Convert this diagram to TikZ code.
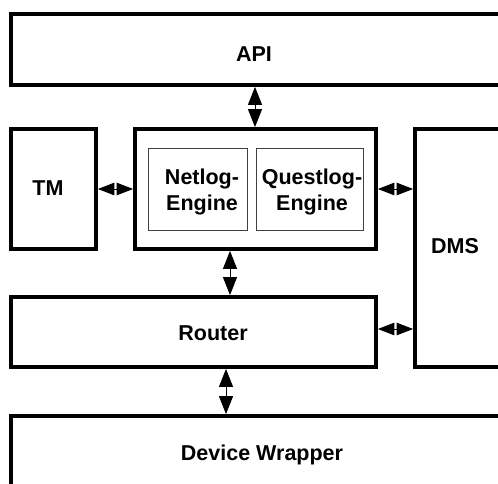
\documentclass[tikz,border=0pt]{standalone}
\usepackage{fontspec}
\setmainfont{Liberation Sans}
\usetikzlibrary{arrows.meta}
\begin{document}
\begin{tikzpicture}[x=1pt,y=-1pt,
  blk/.style={draw, line width=3.8pt, rectangle, inner sep=0pt},
  sub/.style={draw=black!75, line width=0.9pt, rectangle, inner sep=0pt},
  lbl/.style={font=\fontsize{21.5}{26}\selectfont\bfseries, inner sep=0pt, align=center},
  link/.style={line width=1pt, {Triangle[length=18pt,width=14pt]}-{Triangle[length=18pt,width=14pt]}},
  hlink/.style={line width=1pt, {Triangle[length=16.5pt,width=12.5pt]}-{Triangle[length=16.5pt,width=12.5pt]}}]
\useasboundingbox (0,0) rectangle (498,483);
\clip (0,0) rectangle (498,483);
% boxes
\node[blk, minimum width=492pt, minimum height=71pt] (api) at (257,49.5) {};
\node[blk, minimum width=85pt, minimum height=120pt] (tm) at (53.5,189) {};
\node[blk, minimum width=241pt, minimum height=120pt] (engine) at (255.5,189) {};
\node[blk, minimum width=95pt, minimum height=238pt] (dms) at (462.5,248) {};
\node[blk, minimum width=365pt, minimum height=70pt] (router) at (193.5,332) {};
\node[blk, minimum width=504pt, minimum height=74pt] (dev) at (263,453) {};
\node[sub, minimum width=99pt, minimum height=82pt] (netlog) at (197.5,189) {};
\node[sub, minimum width=107pt, minimum height=82pt] (questlog) at (309.5,189) {};
% labels
\node[lbl, anchor=base] (apiT) at (254,61) {API};
\node[lbl, anchor=base] (tmT) at (48,195) {TM};
\node[lbl, anchor=base] (dmsT) at (455,253) {DMS};
\node[lbl, anchor=base] (routerT) at (213,340) {Router};
\node[lbl, anchor=base] (devT) at (262,460) {Device Wrapper};
\node[lbl] (netlogT) at (202,192) {Netlog-\\Engine};
\node[lbl] (questlogT) at (312,192) {Questlog-\\Engine};
% connectors
\coordinate (xa) at (255,0);
\coordinate (xb) at (230,0);
\coordinate (xc) at (226,0);
\coordinate (ya) at (0,189);
\coordinate (yb) at (0,329);
\draw[link] (api.south -| xa) -- (engine.north -| xa);
\draw[link] (engine.south -| xb) -- (router.north -| xb);
\draw[link] (router.south -| xc) -- (dev.north -| xc);
\draw[hlink] (tm.east |- ya) -- (engine.west |- ya);
\draw[hlink] (engine.east |- ya) -- (dms.west |- ya);
\draw[hlink] (router.east |- yb) -- (dms.west |- yb);
\end{tikzpicture}
\end{document}
